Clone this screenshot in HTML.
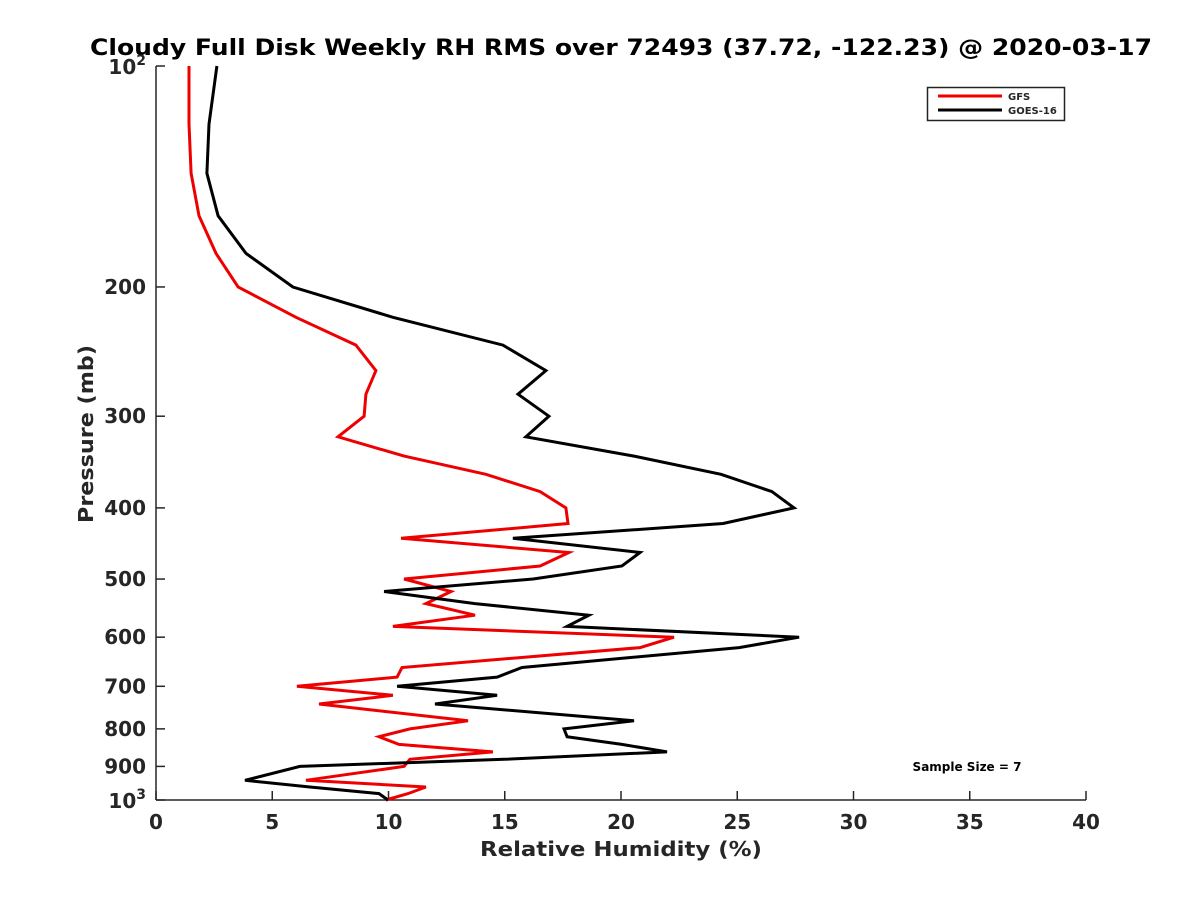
<!DOCTYPE html>
<html><head><meta charset="utf-8"><style>
body{margin:0;background:#fff;}
svg text{font-family:"DejaVu Sans","Liberation Sans",sans-serif;font-weight:bold;fill:#262626;}
</style></head><body>
<svg id="chart" width="1200" height="900" viewBox="0 0 1200 900" xmlns="http://www.w3.org/2000/svg">
<rect width="1200" height="900" fill="#fff"/>
<text x="621" y="55" text-anchor="middle" font-size="22" textLength="1062" lengthAdjust="spacingAndGlyphs" style="fill:#000">Cloudy Full Disk Weekly RH RMS over 72493 (37.72, -122.23) @ 2020-03-17</text>
<g id="axes"></g>
<g id="series"></g>
<text x="621" y="856" text-anchor="middle" font-size="20" textLength="282" lengthAdjust="spacingAndGlyphs">Relative Humidity (%)</text>
<text transform="translate(93,434) rotate(-90)" text-anchor="middle" font-size="20" textLength="178" lengthAdjust="spacingAndGlyphs">Pressure (mb)</text>
<g>
<rect x="927.5" y="87.5" width="137" height="33" fill="#fff" stroke="#222" stroke-width="1.5"/>
<line x1="938" y1="96" x2="1002" y2="96" stroke="#e00" stroke-width="3"/>
<text x="1008" y="100" font-size="10">GFS</text>
<line x1="938" y1="110" x2="1002" y2="110" stroke="#000" stroke-width="3"/>
<text x="1008" y="114" font-size="10">GOES-16</text>
</g>
<text x="967" y="771" text-anchor="middle" font-size="12" style="fill:#000">Sample Size = 7</text>
</svg>
<script>
const pressures=[100,120,140,160,180,200,220,240,260,280,300,320,340,360,380,400,420,440,460,480,500,520,540,560,580,600,620,660,680,700,720,740,780,800,820,840,860,880,900,940,960,980,1000];
const goesValues=[2.62,2.28,2.19,2.67,3.87,5.89,10.19,14.92,16.77,15.57,16.90,15.91,20.56,24.30,26.49,27.44,24.39,15.35,20.82,20.04,16.22,9.81,13.72,18.62,17.68,27.66,25.08,15.74,14.67,10.37,14.67,12.0,20.56,17.55,17.68,20.04,21.98,14.97,6.19,3.83,6.62,9.59,9.98];
const gfsValues=[1.42,1.42,1.51,1.85,2.58,3.53,6.02,8.60,9.46,9.03,8.95,7.83,10.67,14.19,16.52,17.63,17.72,10.54,17.76,16.52,10.67,12.69,11.61,13.72,10.19,22.28,20.82,10.58,10.37,6.06,10.19,7.01,13.42,10.92,9.59,10.45,14.49,10.92,10.67,6.45,11.61,10.84,9.89];
const xTicks=[0,5,10,15,20,25,30,35,40];
const yTicks=[100,200,300,400,500,600,700,800,900,1000];
const yTickLabels=["10|2","200","300","400","500","600","700","800","900","10|3"];
const L=156,R=1086,T=66,B=800;
const xs=v=>L+(v-0)/(40-0)*(R-L);
const ys=p=>T+(Math.log10(p)-2)*(B-T);
const NS="http://www.w3.org/2000/svg";
function mk(tag,attrs,parent){const e=document.createElementNS(NS,tag);for(const k in attrs)e.setAttribute(k,attrs[k]);parent.appendChild(e);return e;}
const ax=document.getElementById('axes');
let e=mk('line',{x1:L,y1:B,x2:R,y2:B,stroke:'#262626','stroke-width':1.5},ax);


e=mk('line',{x1:L,y1:T,x2:L,y2:B,stroke:'#262626','stroke-width':1.5},ax);


xTicks.forEach(v=>{
 const x=xs(v);
 let t=mk('line',{x1:x,y1:B,x2:x,y2:B-9,stroke:'#262626','stroke-width':1.5},ax);
 
 
 let l=mk('text',{x:x,y:B+29,'text-anchor':'middle','font-size':20},ax);
 l.textContent=v;
 
 
});
yTicks.forEach((p,i)=>{
 const y=ys(p);
 let t=mk('line',{x1:L,y1:y,x2:L+9,y2:y,stroke:'#262626','stroke-width':1.5},ax);
 
 
 const lab=yTickLabels[i];
 if(lab.indexOf('|')>=0){
  const parts=lab.split('|');
  let l=mk('text',{x:L-10,y:y+8,'text-anchor':'end','font-size':20},ax);
  
  
  const a=mk('tspan',{},l);a.textContent=parts[0];
  const b=mk('tspan',{'font-size':14,dy:-9},l);b.textContent=parts[1];
 } else {
  let l=mk('text',{x:L-10,y:y+7,'text-anchor':'end','font-size':20},ax);
  l.textContent=lab;
  
  
 }
});
const sg=document.getElementById('series');
function line(vals,color,name){
 const pts=vals.map((v,i)=>xs(v).toFixed(1)+','+ys(pressures[i]).toFixed(1)).join(' ');
 const pl=mk('polyline',{points:pts,fill:'none',stroke:color,'stroke-width':3,'stroke-linejoin':'miter'},sg);
 
 
}
line(gfsValues,'#e00','gfs-line');
line(goesValues,'#000','goes16-line');
</script>
</body></html>
